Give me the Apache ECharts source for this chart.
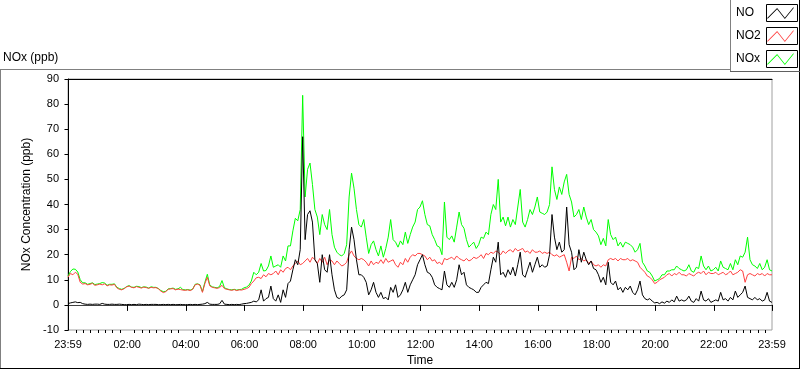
<!DOCTYPE html>
<html><head><meta charset="utf-8">
<script src="https://cdn.jsdelivr.net/npm/echarts@6/dist/echarts.min.js"></script>
<style>html,body{margin:0;padding:0;background:#fff}#c{width:800px;height:369px}</style>
</head><body><div id="c"></div>
<script>
const FONT = 'Liberation Sans';
const seriesNames = ['NO', 'NO2', 'NOx'];
const seriesColors = ['#000000', '#ff4040', '#00ff00'];
// samples every 5 minutes starting at 23:59 of the previous day (minute -1)
const startMinute = -1, stepMinutes = 5;

const noValues = [
 0.5,0.8,1.0,1.2,0.9,1.0,0.5,0.3,0.2,0.3,0.2,0.3,
 0.3,0.2,0.6,0.3,0.2,0.2,0.3,0.2,0.2,0.3,0.2,0.1,
 0.1,0.2,0.1,0.2,0.1,0.3,0.2,0.1,0.2,0.1,0.2,0.2,
 0.2,0.1,0.1,0.2,0.1,0.2,0.1,0.2,0.1,0.1,0.2,0.1,
 0.1,0.1,0.2,0.1,0.2,0.1,0.2,0.3,0.5,1.0,0.3,0.2,
 0.2,0.2,0.4,1.8,0.3,0.2,0.1,0.2,0.1,0.2,0.1,0.3,
 0.5,0.6,0.8,1.0,1.5,1.2,2.0,6.0,1.5,2.5,3.0,7.5,
 2.5,1.5,4.0,1.0,6.0,3.0,8.5,9.5,14.0,18.0,16.0,22.0,
 67.0,26.0,36.0,37.5,33.0,18.0,16.5,9.0,20.0,14.0,13.0,20.0,
 12.0,6.0,3.0,2.5,3.5,4.0,6.0,22.0,31.0,26.0,18.0,12.0,
 12.0,11.0,9.0,4.0,6.0,9.0,5.0,3.0,5.0,2.5,3.0,2.0,
 7.0,5.0,8.0,3.0,4.0,6.0,9.0,5.0,8.0,10.0,12.0,16.0,
 18.0,20.0,16.0,13.0,12.5,11.0,8.0,7.0,6.5,6.0,13.5,8.0,
 7.0,9.0,7.0,10.0,16.0,12.0,13.0,8.0,7.0,6.5,6.0,5.0,
 5.0,7.0,8.0,9.0,8.5,14.0,19.0,17.0,25.0,12.0,13.0,11.0,
 14.0,12.0,15.0,11.5,16.0,21.0,12.0,11.0,14.0,17.0,13.0,16.0,
 19.0,15.0,16.0,15.0,15.5,20.0,36.0,27.0,22.0,25.0,21.0,22.0,
 39.0,24.0,21.0,14.0,15.0,22.0,17.0,21.0,18.0,16.0,17.5,14.5,
 14.0,12.0,9.0,11.0,8.0,17.0,9.0,8.0,9.5,6.0,7.0,5.0,
 7.0,6.0,7.5,5.0,4.0,6.0,9.5,4.0,2.5,2.0,2.5,1.5,
 0.8,1.0,0.5,1.2,0.7,1.5,1.0,2.0,1.2,3.5,1.5,2.0,
 1.5,2.0,3.5,1.5,1.0,2.5,1.5,5.5,2.0,1.5,2.5,1.0,
 1.5,2.0,1.5,5.0,2.0,2.5,1.5,3.0,2.0,5.5,3.0,4.0,
 5.0,7.5,3.0,2.5,2.0,3.0,2.0,2.5,1.5,2.0,5.0,1.5,1.0
];
const no2Values = [
 11.0,12.5,12.0,13.0,12.2,9.0,8.3,8.5,8.0,8.2,8.6,7.8,
 8.0,8.3,8.0,8.4,7.6,8.0,7.9,8.2,6.8,6.2,6.0,6.5,
 7.2,7.5,7.0,6.8,7.3,7.0,6.7,7.1,6.9,6.6,7.0,6.8,
 6.9,6.4,5.5,4.9,5.3,6.2,6.4,6.5,6.0,6.3,6.1,5.9,
 5.8,6.0,5.7,6.2,8.0,8.3,7.8,5.0,8.5,11.0,7.6,7.0,
 6.8,6.6,6.9,7.8,6.5,6.2,6.0,5.8,6.1,5.7,6.0,5.9,
 6.2,6.5,7.0,8.5,9.5,10.8,11.0,10.5,12.0,11.2,12.5,12.0,
 12.5,13.5,12.0,14.0,13.0,14.5,15.0,14.0,15.5,16.5,17.5,16.0,
 16.5,17.5,18.5,17.0,19.0,18.0,16.5,18.5,17.0,19.0,16.0,18.0,
 17.5,16.0,17.5,16.5,15.5,16.0,17.0,20.0,21.5,19.5,18.5,18.0,
 18.5,18.0,17.0,15.5,17.5,16.0,17.0,16.5,18.0,16.5,18.5,17.0,
 17.5,18.0,16.0,15.0,17.0,16.0,18.5,17.0,19.0,20.0,19.5,20.5,
 20.5,20.0,19.5,18.0,19.0,17.5,18.0,16.5,17.0,16.0,18.5,18.0,
 18.5,19.0,18.0,19.5,18.5,18.0,17.5,18.5,17.5,18.0,19.0,18.5,
 19.0,20.0,18.5,20.5,20.0,21.0,20.5,21.5,21.0,20.0,21.5,20.5,
 21.5,22.0,21.0,22.5,21.5,22.0,22.5,21.0,21.5,20.5,22.0,21.0,
 21.0,21.5,20.5,21.0,20.5,21.0,20.0,19.5,20.0,19.0,19.5,20.0,
 17.0,13.5,19.0,18.5,19.5,18.0,18.5,17.5,18.0,16.5,17.5,16.0,
 15.5,16.0,15.0,16.0,15.5,18.0,18.5,18.0,18.5,17.5,18.5,18.0,
 18.0,18.5,17.5,18.0,17.5,17.0,15.0,14.0,13.0,11.5,11.0,10.0,
 8.5,9.0,10.0,10.5,11.0,12.0,12.5,11.5,12.5,12.0,13.0,12.0,
 12.0,11.5,12.5,12.0,11.5,12.5,13.0,12.5,13.5,12.0,13.0,12.5,
 12.5,13.0,12.0,12.5,13.0,12.0,12.5,13.5,12.0,12.5,13.0,14.0,
 13.5,9.0,12.0,12.5,12.0,11.5,12.5,12.0,12.5,11.5,12.5,12.0,12.0
];
const noxValues = [
 11.5,13.3,14.3,14.2,13.1,10.0,8.8,8.8,8.2,8.5,8.8,8.1,
 8.3,8.5,8.9,8.7,7.8,8.2,8.2,8.4,7.0,6.5,6.2,6.6,
 7.3,7.7,7.1,7.0,7.4,7.3,6.9,7.2,7.1,6.7,7.2,7.0,
 7.0,6.5,5.7,5.3,5.4,6.4,6.5,6.7,6.2,6.4,7.0,6.1,
 6.0,6.1,5.9,6.3,8.2,8.4,8.0,5.3,9.0,12.2,7.9,7.2,
 7.0,6.8,7.3,9.7,6.8,6.4,6.1,6.0,6.2,5.9,6.1,6.2,
 6.8,7.1,7.8,9.5,13.0,12.0,13.0,16.5,13.5,13.7,15.5,19.5,
 15.0,15.5,16.0,15.0,19.5,17.5,23.5,23.5,29.5,34.5,33.5,38.0,
 83.5,43.0,54.0,56.5,48.0,38.0,35.0,28.0,36.0,32.0,30.0,38.0,
 28.0,23.0,21.0,20.0,19.5,20.5,24.0,43.0,52.5,46.5,38.0,32.0,
 31.0,34.0,27.0,20.5,24.0,25.5,22.0,19.5,23.5,19.0,22.5,27.0,
 34.0,26.0,25.0,23.0,25.5,24.0,29.0,24.5,28.0,31.0,33.0,38.0,
 39.0,41.5,36.0,32.0,31.5,28.0,26.0,23.5,23.0,20.0,41.0,27.0,
 26.0,27.5,25.0,31.0,37.0,32.0,30.5,26.0,23.0,24.0,25.0,22.5,
 24.0,27.0,26.5,29.0,28.0,36.0,40.0,38.0,50.0,33.0,35.0,31.5,
 35.0,31.0,34.0,32.0,39.0,46.0,33.0,31.0,34.0,38.0,36.0,39.0,
 43.0,37.0,36.5,36.0,37.0,40.0,55.0,46.0,42.0,47.0,44.0,49.0,
 52.0,44.0,41.0,35.0,36.0,38.0,34.0,39.0,35.0,32.0,34.0,30.0,
 29.0,27.5,24.0,26.5,23.5,34.0,28.0,26.0,27.0,23.5,25.0,23.0,
 25.0,24.5,24.0,23.0,21.0,22.0,24.5,17.0,15.5,13.5,13.0,11.5,
 9.5,10.0,10.5,12.0,12.0,13.5,13.5,14.0,14.0,15.5,14.5,14.0,
 13.5,14.0,16.0,13.5,13.0,15.0,14.5,19.5,15.5,14.0,15.5,13.5,
 14.0,15.0,13.5,17.5,15.0,14.5,14.0,16.5,14.0,18.0,16.0,19.5,
 19.0,21.0,27.0,18.0,16.0,15.5,14.5,16.5,14.0,15.0,18.0,14.0,13.5
];

const majorTickMinutes = [-1,120,240,360,480,600,720,840,960,1080,1200,1320,1439];
const majorTickLabels = ['23:59','02:00','04:00','06:00','08:00','10:00','12:00','14:00','16:00','18:00','20:00','22:00','23:59'];
const minorTickMinutes = [];
for (let m = 15; m < 1439; m += 15) { if (m % 120 !== 0) minorTickMinutes.push(m); }

function toPairs(vals) { return vals.map((v, i) => [startMinute + stepMinutes * i, v]); }

const chart = echarts.init(document.getElementById('c'), null, {renderer: 'canvas', width: 800, height: 369});

const zig = 'path://M0,10.8 L10,0.8 L18,10.8 L27,-0.2 L27,1.2 L18,12.2 L10,2.2 L0,12.2 Z';

function lineSeries(idx, vals, z) {
  return {
    type: 'line', name: seriesNames[idx], data: toPairs(vals),
    xAxisIndex: 0, yAxisIndex: 0, showSymbol: false, symbol: 'none',
    color: seriesColors[idx], itemStyle: {color: seriesColors[idx]},
    lineStyle: {width: 1, color: seriesColors[idx]}, z: z, silent: true
  };
}

chart.setOption({
  animation: false,
  backgroundColor: '#ffffff',
  textStyle: {fontFamily: FONT},
  title: {
    text: 'NOx (ppb)', left: 3, top: 52, padding: 0,
    textStyle: {fontSize: 12, fontWeight: 'normal', color: '#000', fontFamily: FONT}
  },
  legend: {
    orient: 'vertical', left: 736, top: 7, padding: 0, align: 'right',
    itemWidth: 27, itemHeight: 12, itemGap: 11, icon: zig,
    itemStyle: {borderWidth: 0}, selectedMode: false,
    formatter: '{n|{name}}',
    textStyle: {color: '#000', fontSize: 12, fontFamily: FONT,
      rich: {n: {width: 26, align: 'left', fontSize: 12, fontFamily: FONT, color: '#000'}}},
    data: seriesNames
  },
  grid: {left: 68, top: 79, width: 704, height: 251, outerBoundsMode: 'none', containLabel: false,
    show: true, borderColor: '#a0a0a0', borderWidth: 1, backgroundColor: '#fff'},
  xAxis: [
    {
      type: 'value', min: -1, max: 1439, position: 'bottom',
      axisLine: {show: true, lineStyle: {color: '#404040', width: 1}},
      axisTick: {show: true, customValues: majorTickMinutes, length: 6, lineStyle: {color: '#000'}},
      axisLabel: {customValues: majorTickMinutes, fontSize: 11, color: '#000', margin: 9, fontFamily: FONT,
        formatter: v => { const i = majorTickMinutes.indexOf(v); return i >= 0 ? majorTickLabels[i] : ''; }},
      splitLine: {show: false},
      name: 'Time', nameLocation: 'middle', nameGap: 25,
      nameTextStyle: {fontSize: 12, color: '#000', fontFamily: FONT}
    },
    {
      type: 'value', min: -1, max: 1439, position: 'bottom',
      axisLine: {show: false},
      axisTick: {show: true, customValues: minorTickMinutes, length: 3, lineStyle: {color: '#000'}},
      axisLabel: {show: false}, splitLine: {show: false}
    },
    {
      type: 'value', min: -1, max: 1439, position: 'top',
      axisLine: {show: true, lineStyle: {color: '#000'}},
      axisTick: {show: false}, axisLabel: {show: false}, splitLine: {show: false}
    }
  ],
  yAxis: {
    type: 'value', min: -10, max: 90, interval: 10,
    axisLine: {show: true, lineStyle: {color: '#000'}},
    axisTick: {show: true, length: 4, lineStyle: {color: '#000'}},
    axisLabel: {fontSize: 11, color: '#000', margin: 9, fontFamily: FONT},
    splitLine: {show: false},
    name: 'NOx Concentration (ppb)', nameLocation: 'middle', nameGap: 26,
    nameTextStyle: {fontSize: 12, color: '#000', fontFamily: FONT}
  },
  series: [
    lineSeries(2, noxValues, 2),
    lineSeries(1, no2Values, 3),
    lineSeries(0, noValues, 4)
  ],
  graphic: [
    {type: 'line', silent: true, shape: {x1: 0, y1: 69.5, x2: 730, y2: 69.5}, style: {stroke: '#808080', lineWidth: 1}},
    {type: 'line', silent: true, shape: {x1: 0.5, y1: 69, x2: 0.5, y2: 369}, style: {stroke: '#808080', lineWidth: 1}},
    {type: 'line', silent: true, shape: {x1: 0, y1: 368.5, x2: 800, y2: 368.5}, style: {stroke: '#000', lineWidth: 1}},
    {type: 'line', silent: true, shape: {x1: 799.5, y1: 0, x2: 799.5, y2: 369}, style: {stroke: '#000', lineWidth: 1}},
    {type: 'line', silent: true, shape: {x1: 730.5, y1: 0, x2: 730.5, y2: 72}, style: {stroke: '#808080', lineWidth: 1}},
    {type: 'line', silent: true, shape: {x1: 730, y1: 71.5, x2: 800, y2: 71.5}, style: {stroke: '#606060', lineWidth: 1}},
    {type: 'rect', silent: true, shape: {x: 766.5, y: 4.5, width: 31, height: 17}, style: {stroke: '#000', fill: 'none', lineWidth: 1}},
    {type: 'rect', silent: true, shape: {x: 766.5, y: 27.5, width: 31, height: 17}, style: {stroke: '#000', fill: 'none', lineWidth: 1}},
    {type: 'rect', silent: true, shape: {x: 766.5, y: 50.5, width: 31, height: 17}, style: {stroke: '#000', fill: 'none', lineWidth: 1}}
  ]
});
</script>
</body></html>
